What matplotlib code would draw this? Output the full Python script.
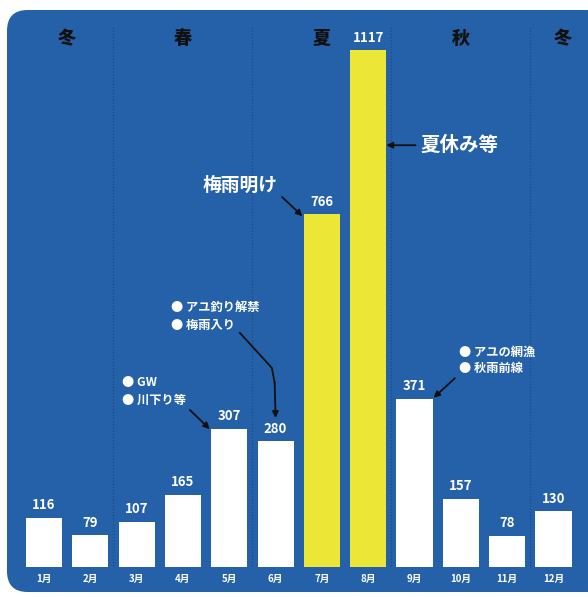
import matplotlib
matplotlib.use('Agg')
import matplotlib.pyplot as plt
from matplotlib.patches import FancyBboxPatch

plt.rcParams['font.family'] = ['Noto Sans CJK JP', 'DejaVu Sans']

# data
months = ['1月', '2月', '3月', '4月', '5月', '6月', '7月', '8月', '9月', '10月', '11月', '12月']
values = [116, 79, 107, 165, 307, 280, 766, 1117, 371, 157, 78, 130]
seasons = ['冬', '春', '夏', '秋', '冬']
season_x = [0.5, 3.0, 6.0, 9.0, 11.2]
season_breaks = [1.5, 4.5, 7.5, 10.5]
highlight = [6, 7]

blue = '#2561a8'
yellow = '#ece637'

fig = plt.figure(figsize=(5.88, 5.97), dpi=100)
fig.patch.set_facecolor('white')

# rounded blue panel (behind the axes)
panel = FancyBboxPatch((7/588, 5/597), 600/588, 582/597,
                       boxstyle='round,pad=0,rounding_size=0.035',
                       transform=fig.transFigure, facecolor=blue, edgecolor='none', zorder=-5)
fig.patches.append(panel)

ax = fig.add_axes([20.8/588, 30/597, 555.9/588, 560/597])
ax.set_facecolor('none')
ax.set_xlim(-0.5, 11.5)
ax.set_ylim(10.7, 1210)

colors = [yellow if i in highlight else 'white' for i in range(len(values))]
bars = ax.bar(range(len(values)), values, width=0.78, color=colors, zorder=3)

for i, v in enumerate(values):
    ax.annotate(str(v), (i, v), xytext=(0, 4), textcoords='offset points',
                ha='center', va='bottom', color='white', fontsize=9.5, fontweight='bold')

for b in season_breaks:
    ax.plot([b, b], [0, 1171], color='#1b4c88', lw=0.9, ls=(0, (1, 1.5)), zorder=1)

for s, x in zip(seasons, season_x):
    ax.text(x, 1143, s, ha='center', va='center', fontsize=13, fontweight='heavy', color='#111111')

ax.set_xticks(range(len(months)))
ax.set_xticklabels(months, color='white', fontsize=7, fontweight='bold')
ax.tick_params(axis='x', length=0, pad=5)
ax.set_yticks([])
for sp in ax.spines.values():
    sp.set_visible(False)

arrow = dict(arrowstyle='-|>', color='#111111', lw=1.3, mutation_scale=9, shrinkA=0, shrinkB=0)
note = dict(ha='left', va='center', color='white', fontsize=8.8, fontweight='bold')

# 夏休み等
ax.annotate('', xy=(7.39, 914), xytext=(8.02, 914), arrowprops=arrow, zorder=5)
ax.text(8.12, 914, '夏休み等', ha='left', va='center', color='white', fontsize=14, fontweight='bold')

# 梅雨明け
ax.annotate('', xy=(5.58, 762), xytext=(5.14, 803), arrowprops=arrow, zorder=5)
ax.text(4.23, 829, '梅雨明け', ha='center', va='center', color='white', fontsize=13.5, fontweight='bold')

# アユ釣り解禁 / 梅雨入り
ax.text(2.75, 567, '● アユ釣り解禁', **note)
ax.text(2.75, 529, '● 梅雨入り', **note)
ax.plot([4.23, 4.92, 4.98], [512, 437, 405], color='#111111', lw=1.3, zorder=5)
ax.annotate('', xy=(5.0, 330), xytext=(4.98, 407), arrowprops=arrow, zorder=5)

# GW / 川下り等
ax.text(1.69, 405, '● GW', **note)
ax.text(1.69, 368, '● 川下り等', **note)
ax.annotate('', xy=(3.58, 306), xytext=(3.15, 347), arrowprops=arrow, zorder=5)

# アユの網漁 / 秋雨前線
ax.text(8.97, 471, '● アユの網漁', **note)
ax.text(8.97, 435, '● 秋雨前線', **note)
ax.annotate('', xy=(8.41, 373), xytext=(8.87, 415), arrowprops=arrow, zorder=5)

plt.savefig('out.png', dpi=100, facecolor='white')
